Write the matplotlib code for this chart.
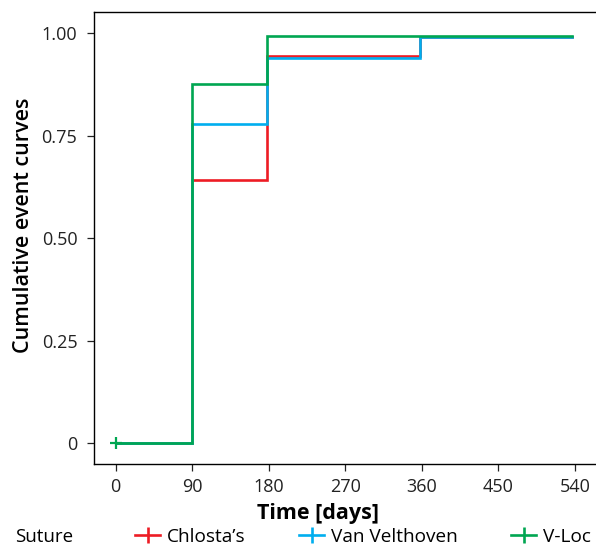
import matplotlib.pyplot as plt
from matplotlib.lines import Line2D

# cumulative event curves by suture technique
times = [0, 90, 178, 358, 536]
chlosta = [0, 0.641, 0.943, 0.990, 0.990]
van_velthoven = [0, 0.778, 0.938, 0.990, 0.990]
v_loc = [0, 0.876, 0.993, 0.993, 0.993]

series_names = ["Chlosta’s", "Van Velthoven", "V-Loc"]
series_colors = ["#ed1c24", "#00aeef", "#00a651"]

x_ticks = [0, 90, 180, 270, 360, 450, 540]
y_ticks = [0, 0.25, 0.5, 0.75, 1.0]
y_tick_labels = ["0", "0.25", "0.50", "0.75", "1.00"]

plt.rcParams["font.family"] = ["Open Sans", "DejaVu Sans"]

W, H = 596, 549
fig = plt.figure(figsize=(W / 100, H / 100), dpi=100)
ax = fig.add_axes([94 / W, 1 - 464 / H, (600 - 94) / W, (464 - 12.3) / H])

for values, color in zip([chlosta, van_velthoven, v_loc], series_colors):
    ax.step(times, values, where="post", color=color, lw=1.9, solid_joinstyle="miter")

# censoring mark at time zero
ax.plot([times[0]], [v_loc[0]], marker="+", color=series_colors[2], ms=9, mew=1.6)

ax.set_xlim(-25.5, 569.4)
ax.set_ylim(-0.0512, 1.0505)
ax.set_xticks(x_ticks)
ax.set_yticks(y_ticks)
ax.set_yticklabels(y_tick_labels)
ax.tick_params(labelsize=13, length=5, width=0.9, colors="#222222", pad=5)
ax.tick_params(axis="y", pad=7)
for side in ["left", "bottom", "top"]:
    ax.spines[side].set_linewidth(1.0)
ax.spines["right"].set_visible(False)

fig.text(24 / W, 1 - 225 / H, "Cumulative event curves", fontsize=15.5,
         fontweight="semibold", rotation=90, ha="center", va="center")
fig.text(318 / W, 1 - 513 / H, "Time [days]", fontsize=15.5, fontweight="bold",
         ha="center", va="center")

handles = [
    Line2D([0], [0], color=c, lw=1.9, marker="|", ms=11, mew=1.9)
    for c in series_colors
]
fig.text(15 / W, 1 - 537 / H, "Suture", fontsize=13.5, va="center", ha="left")
fig.legend(handles, series_names, loc="center left",
           bbox_to_anchor=(135 / W, 1 - 537 / H), ncol=3, frameon=False,
           fontsize=13.7, handlelength=1.32, handletextpad=0.37,
           columnspacing=2.8, borderaxespad=0, borderpad=0)

plt.savefig("out.png", dpi=100)
plt.close()
